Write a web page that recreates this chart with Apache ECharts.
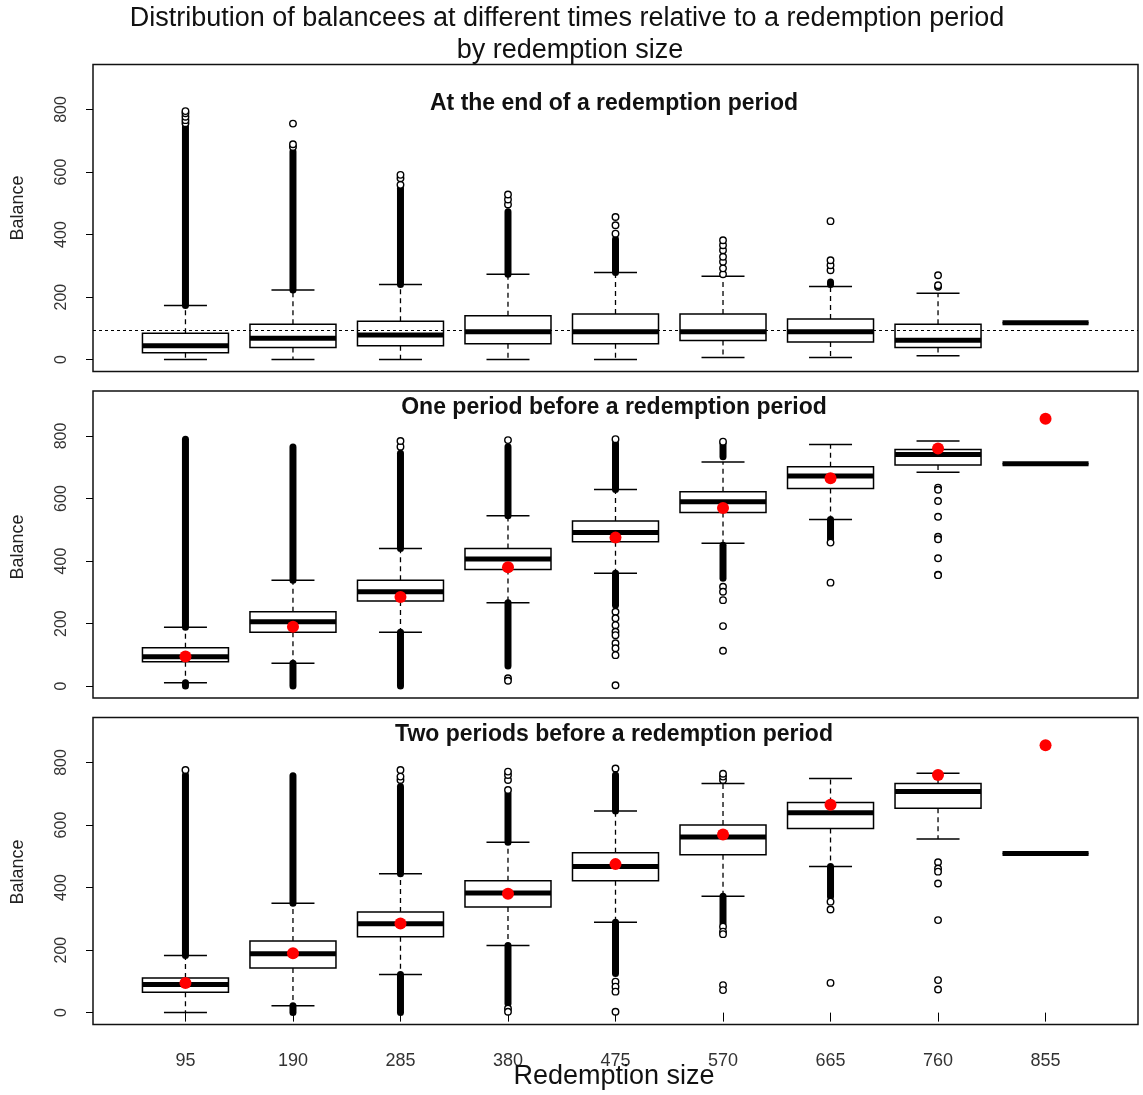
<!DOCTYPE html>
<html>
<head>
<meta charset="utf-8">
<script src="https://cdn.jsdelivr.net/npm/echarts@6/dist/echarts.min.js"></script>
<style>html,body{margin:0;padding:0;background:#fff}#c{width:1143px;height:1095px}</style>
</head>
<body>
<div id="c"></div>
<script>
// ---------- DATA ----------
const sizes = [95, 190, 285, 380, 475, 570, 665, 760, 855];
const sizeLabels = ['95', '190', '285', '380', '475', '570', '665', '760', '855'];
const yTicks = [0, 200, 400, 600, 800];
const refLine = 95;
const mainTitle = 'Distribution of balancees at different times relative to a redemption period';
const subTitle = 'by redemption size';
const panelTitles = ['At the end of a redemption period', 'One period before a redemption period', 'Two periods before a redemption period'];
const yName = 'Balance';
const xName = 'Redemption size';

// [lower whisker, Q1, median, Q3, upper whisker]
const p1Stats = [[0,22,44,84,173],[0,39,68,113,223],[0,44,79,123,240],[0,51,89,140,273],[0,51,89,146,279],[7,61,89,146,267],[7,56,89,130,234],[12,39,62,113,212],[118,118,118,118,118]];
const p2Stats = [[11,78,94,123,188],[73,172,206,238,339],[172,272,302,339,440],[267,373,407,440,545],[361,462,491,528,629],[457,555,590,622,717],[533,632,672,702,773],[684,707,741,757,784],[711,711,711,711,711]];
const p3Stats = [[0,65,90,111,183],[22,143,188,229,350],[122,243,284,322,444],[215,338,383,422,545],[289,422,467,511,645],[372,505,562,600,733],[467,589,639,672,749],[555,654,707,733,766],[509,509,509,509,509]];

// dense runs of overlapping outliers [from, to] (null = none)
const p1DenseHigh = [[173,745],[223,665],[240,548],[273,473],[279,385],null,[240,248],null,null];
const p1DenseLow  = [null,null,null,null,null,null,null,null,null];
const p2DenseHigh = [[188,790],[339,765],[440,745],[545,766],[629,777],[734,775],null,null,null];
const p2DenseLow  = [[0,11],[0,73],[0,172],[64,267],[259,361],[345,451],[467,533],null,null];
const p3DenseHigh = [[183,760],[350,758],[444,723],[545,701],[645,760],null,null,null,null];
const p3DenseLow  = [null,[0,22],[0,122],[29,215],[125,289],[285,372],[371,467],null,null];

// individual outlier circles
const p1Circles = [[756,766,777,788,795],[680,689,755],[559,580,591],[496,512,528],[403,430,456],[273,292,313,329,350,366,382],[286,302,318,443],[233,238,270],[]];
const p2Circles = [[],[],[766,784],[787,25,17],[790,238,217,195,174,163,137,121,99,3],[782,318,302,275,192,113],[459,331],[635,628,592,542,478,470,409,356,355],[]];
const p3Circles = [[776],[],[744,755,776],[712,744,760,771,13,3],[781,99,83,67,3],[744,755,764,275,259,251,88,72],[355,330,95],[481,461,451,413,296,104,74],[]];

// red markers (panels 2 and 3)
const p2Marks = [95, 190, 285, 380, 475, 570, 665, 760, 855];
const p3Marks = [95, 190, 285, 380, 475, 570, 665, 760, 855];

// ---------- CHART ----------
const chart = echarts.init(document.getElementById('c'), null, {renderer: 'canvas'});
const FONT = '"Liberation Sans", Arial, sans-serif';
const gridTops = [64.5, 391, 717.5];
const gridH = 307;

function boxRender(params, api) {
  const x = api.value(0);
  const lo = api.coord([x, api.value(1)]);
  const q1 = api.coord([x, api.value(2)]);
  const md = api.coord([x, api.value(3)]);
  const q3 = api.coord([x, api.value(4)]);
  const hi = api.coord([x, api.value(5)]);
  const bw = api.size([76, 0])[0];
  const cx = lo[0];
  const dash = {stroke: '#000', lineWidth: 1.3, lineDash: [5, 4]};
  const solid = {stroke: '#000', lineWidth: 1.5};
  return {type: 'group', children: [
    {type: 'line', shape: {x1: cx, y1: q1[1], x2: cx, y2: lo[1]}, style: dash},
    {type: 'line', shape: {x1: cx, y1: q3[1], x2: cx, y2: hi[1]}, style: dash},
    {type: 'line', shape: {x1: cx - bw / 4, y1: lo[1], x2: cx + bw / 4, y2: lo[1]}, style: solid},
    {type: 'line', shape: {x1: cx - bw / 4, y1: hi[1], x2: cx + bw / 4, y2: hi[1]}, style: solid},
    {type: 'rect', shape: {x: cx - bw / 2, y: q3[1], width: bw, height: q1[1] - q3[1]}, style: {fill: '#fff', stroke: '#000', lineWidth: 1.5}},
    {type: 'line', shape: {x1: cx - bw / 2, y1: md[1], x2: cx + bw / 2, y2: md[1]}, style: {stroke: '#000', lineWidth: 5}}
  ]};
}
function denseRender(params, api) {
  const x = api.value(0);
  const a = api.coord([x, api.value(1)]);
  const b = api.coord([x, api.value(2)]);
  const w = 7;
  return {type: 'rect', shape: {x: a[0] - w / 2, y: b[1] - w / 2, width: w, height: a[1] - b[1] + w, r: w / 2}, style: {fill: '#000'}};
}

const statsAll = [p1Stats, p2Stats, p3Stats];
const denseAll = [[p1DenseHigh, p1DenseLow], [p2DenseHigh, p2DenseLow], [p3DenseHigh, p3DenseLow]];
const circlesAll = [p1Circles, p2Circles, p3Circles];
const marksAll = [null, p2Marks, p3Marks];

const grids = [], xAxes = [], yAxes = [], series = [];
for (let i = 0; i < 3; i++) {
  grids.push({left: 93, right: 5, top: gridTops[i], height: gridH, show: true, borderColor: '#111', borderWidth: 1.5, backgroundColor: 'transparent'});
  const bottom = i === 2;
  xAxes.push({
    gridIndex: i, type: 'value', min: 13.3, max: 936.7, show: bottom,
    splitLine: {show: false}, axisLine: {show: false},
    axisTick: {show: true, customValues: sizes, length: 9, lineStyle: {color: '#000', width: 1}},
    axisLabel: {customValues: sizes, margin: 28, fontSize: 18, color: '#333', fontFamily: FONT,
      formatter: v => sizeLabels[sizes.indexOf(v)]}
  });
  yAxes.push({
    gridIndex: i, type: 'value', min: -38, max: 944,
    splitLine: {show: false}, axisLine: {show: false},
    axisTick: {show: true, customValues: yTicks, length: 7, lineStyle: {color: '#000', width: 1}},
    axisLabel: {customValues: yTicks, rotate: 90, margin: 23, fontSize: 16, color: '#333', fontFamily: FONT}
  });
  series.push({
    type: 'custom', xAxisIndex: i, yAxisIndex: i, renderItem: boxRender, z: 2,
    encode: {x: 0, y: [1, 2, 3, 4, 5]},
    data: statsAll[i].map((s, k) => [sizes[k]].concat(s)),
    markLine: i === 0 ? {symbol: 'none', silent: true, label: {show: false},
      lineStyle: {color: '#000', width: 1.2, type: [3, 3]}, data: [{yAxis: refLine}]} : undefined
  });
  const dd = [];
  denseAll[i].forEach(arr => arr.forEach((r, k) => { if (r) dd.push([sizes[k], r[0], r[1]]); }));
  series.push({type: 'custom', xAxisIndex: i, yAxisIndex: i, renderItem: denseRender, z: 3,
    encode: {x: 0, y: [1, 2]}, data: dd});
  const cd = [];
  circlesAll[i].forEach((arr, k) => arr.forEach(v => cd.push([sizes[k], v])));
  series.push({type: 'scatter', xAxisIndex: i, yAxisIndex: i, z: 4, symbol: 'circle', symbolSize: 6.5,
    itemStyle: {color: '#fff', borderColor: '#000', borderWidth: 1.4, opacity: 1}, data: cd});
  if (marksAll[i]) {
    series.push({type: 'scatter', xAxisIndex: i, yAxisIndex: i, z: 5, symbol: 'circle', symbolSize: 12,
      itemStyle: {color: '#ff0000', opacity: 1}, data: marksAll[i].map((v, k) => [sizes[k], v])});
  }
}

function txt(text, x, y, font, fill, rot) {
  return {type: 'text', x: x, y: y, z: 10, rotation: rot || 0,
    style: {text: text, font: font, fill: fill, align: 'center', verticalAlign: 'middle', textAlign: 'center', textVerticalAlign: 'middle'}};
}
const graphics = [
  txt(mainTitle, 567, 19, '27px ' + FONT, '#111'),
  txt(subTitle, 570, 51, '27px ' + FONT, '#111'),
  txt(xName, 614, 1077, '27px ' + FONT, '#111')
];
const ptY = [104, 408, 735];
const balY = [208, 547, 872];
for (let i = 0; i < 3; i++) {
  graphics.push(txt(panelTitles[i], 614, ptY[i], 'bold 23px ' + FONT, '#111'));
  graphics.push(txt(yName, 18, balY[i], '18px ' + FONT, '#222', Math.PI / 2));
}

chart.setOption({
  animation: false,
  backgroundColor: '#fff',
  grid: grids, xAxis: xAxes, yAxis: yAxes, series: series, graphic: graphics
});
</script>
</body>
</html>
